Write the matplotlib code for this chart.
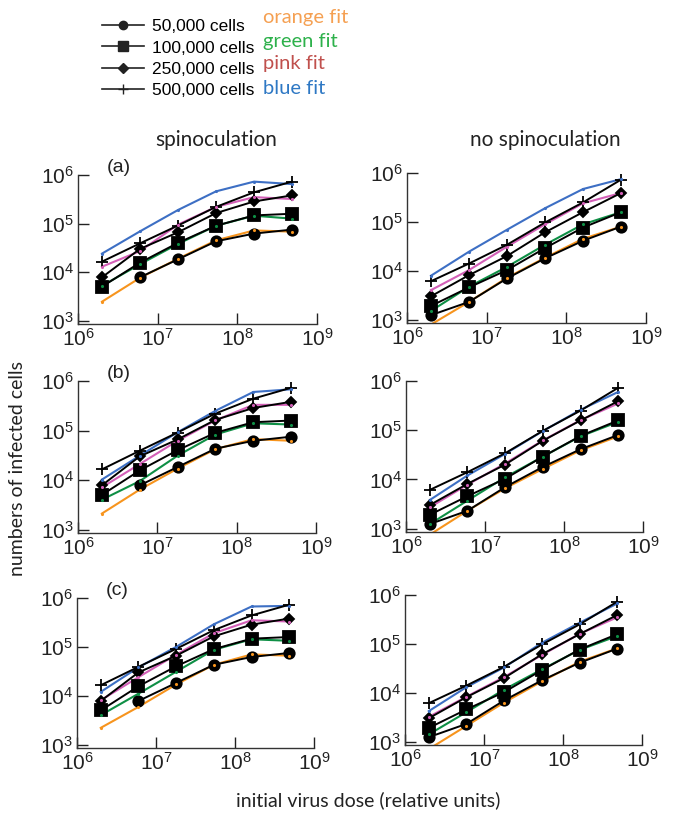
import matplotlib
matplotlib.use("Agg")
import matplotlib.pyplot as plt
import numpy as np
from matplotlib.lines import Line2D

plt.rcParams['font.family'] = ['Liberation Sans', 'DejaVu Sans']
plt.rcParams['mathtext.fontset'] = 'custom'
plt.rcParams['mathtext.rm'] = 'Liberation Sans'

# initial virus dose (relative units)
dose = [2e6, 6e6, 1.8e7, 5.4e7, 1.62e8, 4.86e8]

cell_labels = ['50,000 cells', '100,000 cells', '250,000 cells', '500,000 cells']
fit_labels = ['orange fit', 'green fit', 'pink fit', 'blue fit']

# measured data (same in every row)
spin_50k = [np.nan, 7.8e3, 1.83e4, 4.3e4, 6.2e4, 7.5e4]
spin_100k = [5.0e3, 1.56e4, 4.0e4, 9.0e4, 1.47e5, 1.59e5]
spin_250k = [7.8e3, 3.0e4, 6.6e4, 1.64e5, 2.85e5, 3.8e5]
spin_500k = [1.64e4, 3.9e4, 9.1e4, 2.2e5, 4.4e5, 7.3e5]

nospin_50k = [1.23e3, 2.3e3, 6.95e3, 1.79e4, 4.1e4, 8.0e4]
nospin_100k = [1.9e3, 4.55e3, 1.03e4, 2.9e4, 7.65e4, 1.58e5]
nospin_250k = [3.0e3, 8.1e3, 2.0e4, 6.1e4, 1.58e5, 3.9e5]
nospin_500k = [6.1e3, 1.4e4, 3.4e4, 9.7e4, 2.5e5, 7.3e5]

# fits, row (a)
a_spin_orange = [2.45e3, 7.6e3, 1.88e4, 4.5e4, 7.2e4, 6.8e4]
a_spin_green = [5.2e3, 1.45e4, 3.8e4, 9.0e4, 1.45e5, 1.26e5]
a_spin_pink = [1.29e4, 2.7e4, 9.5e4, 2.2e5, 3.5e5, 3.2e5]
a_spin_blue = [2.4e4, 6.9e4, 1.9e5, 4.6e5, 7.3e5, 6.5e5]
a_nospin_orange = [7.9e2, 2.3e3, 7.2e3, 1.84e4, 4.5e4, 8.0e4]
a_nospin_green = [1.5e3, 4.7e3, 1.2e4, 3.4e4, 8.9e4, 1.58e5]
a_nospin_pink = [4.0e3, 1.03e4, 3.1e4, 8.9e4, 2.4e5, 3.9e5]
a_nospin_blue = [7.9e3, 2.45e4, 6.9e4, 1.9e5, 4.7e5, 7.5e5]

# fits, row (b)
b_spin_orange = [2.1e3, 6.4e3, 1.7e4, 4.2e4, 6.7e4, 6.2e4]
b_spin_green = [4.0e3, 9.5e3, 3.1e4, 8.3e4, 1.4e5, 1.32e5]
b_spin_pink = [7.1e3, 2.1e4, 6.2e4, 1.6e5, 3.3e5, 3.3e5]
b_spin_blue = [1.02e4, 3.1e4, 9.2e4, 2.5e5, 6.0e5, 6.8e5]
b_nospin_orange = [7.5e2, 2.3e3, 6.6e3, 1.63e4, 3.9e4, 7.5e4]
b_nospin_green = [1.23e3, 3.7e3, 1.1e4, 2.9e4, 7.5e4, 1.48e5]
b_nospin_pink = [2.7e3, 7.8e3, 2.1e4, 6.2e4, 1.6e5, 3.5e5]
b_nospin_blue = [3.8e3, 1.2e4, 3.3e4, 9.6e4, 2.6e5, 6.0e5]

# fits, row (c)
c_spin_orange = [2.2e3, 5.9e3, 1.7e4, 4.3e4, 7.0e4, 6.6e4]
c_spin_green = [4.0e3, 1.1e4, 3.1e4, 8.7e4, 1.43e5, 1.33e5]
c_spin_pink = [8.1e3, 2.4e4, 6.9e4, 1.9e5, 3.5e5, 3.3e5]
c_spin_blue = [1.2e4, 3.8e4, 1.0e5, 2.9e5, 6.7e5, 6.9e5]
c_nospin_orange = [7.0e2, 2.1e3, 6.3e3, 1.7e4, 4.3e4, 8.1e4]
c_nospin_green = [1.4e3, 4.0e3, 1.16e4, 3.0e4, 7.5e4, 1.45e5]
c_nospin_pink = [3.2e3, 8.3e3, 2.1e4, 5.9e4, 1.6e5, 3.5e5]
c_nospin_blue = [4.2e3, 1.3e4, 3.3e4, 1.05e5, 2.7e5, 6.7e5]

spin_data = [spin_50k, spin_100k, spin_250k, spin_500k]
nospin_data = [nospin_50k, nospin_100k, nospin_250k, nospin_500k]
fits = {
    ('a', 0): [a_spin_orange, a_spin_green, a_spin_pink, a_spin_blue],
    ('a', 1): [a_nospin_orange, a_nospin_green, a_nospin_pink, a_nospin_blue],
    ('b', 0): [b_spin_orange, b_spin_green, b_spin_pink, b_spin_blue],
    ('b', 1): [b_nospin_orange, b_nospin_green, b_nospin_pink, b_nospin_blue],
    ('c', 0): [c_spin_orange, c_spin_green, c_spin_pink, c_spin_blue],
    ('c', 1): [c_nospin_orange, c_nospin_green, c_nospin_pink, c_nospin_blue],
}

markers = ['o', 's', 'D', '+']
msizes = [7.5, 8, 5.5, 8.5]
fit_colors = ['#F7941D', '#0E8F45', '#D35FB7', '#3D6FC4']
text_colors = ['#F5A052', '#2DB14B', '#C0504D', '#2E78C4']

W, H = 674, 813
fig = plt.figure(figsize=(W / 100, H / 100), dpi=100)


def px_axes(left, top, right, bottom):
    return fig.add_axes([left / W, 1 - bottom / H, (right - left) / W, (bottom - top) / H])


boxes = [
    [(78, 175, 317, 324), (407, 173, 646, 323)],
    [(78, 381, 316, 533), (406, 381, 643, 532)],
    [(77, 598, 314, 748), (405, 595, 642, 745)],
]

for r, row in enumerate(['a', 'b', 'c']):
    for c in range(2):
        ax = px_axes(*boxes[r][c])
        data = spin_data if c == 0 else nospin_data
        for k in range(4):
            ax.plot(dose, fits[(row, c)][k], color=fit_colors[k], lw=1.5, zorder=2)
            ax.plot(dose, data[k], color='black', lw=1.4, marker=markers[k],
                    ms=msizes[k], mew=1.3, zorder=3)
            ax.plot(dose, fits[(row, c)][k], ls='none', marker='.', ms=2.5,
                    color=fit_colors[k], zorder=4)
        ax.set_xscale('log')
        ax.set_yscale('log')
        ax.set_xlim(1e6, 1e9)
        ax.set_ylim(8.5e2, 1e6)
        ax.set_xticks([1e6, 1e7, 1e8, 1e9])
        ax.set_yticks([1e3, 1e4, 1e5, 1e6])
        ax.minorticks_off()
        ax.spines['top'].set_visible(False)
        ax.spines['right'].set_visible(False)
        for s in ['left', 'bottom']:
            ax.spines[s].set_linewidth(1.0)
            ax.spines[s].set_color('#333333')
        ax.tick_params(direction='in', length=8, width=1.0, labelsize=15,
                       colors='#222222', pad=3)
        if c == 0:
            ax.text(0.17, 1.05, '(' + row + ')', transform=ax.transAxes,
                    fontsize=14, ha='center', va='center', color='#222222')

# column titles
fig.text(216 / W, 1 - 140 / H, 'spinoculation', fontsize=15, family=['Lato', 'DejaVu Sans'],
         ha='center', va='center', color='#222222')
fig.text(545 / W, 1 - 140 / H, 'no spinoculation', fontsize=15, family=['Lato', 'DejaVu Sans'],
         ha='center', va='center', color='#222222')

fig.text(18 / W, 1 - 468 / H, 'numbers of infected cells', fontsize=14,
         family=['Lato', 'DejaVu Sans'], rotation=90, ha='center', va='center',
         color='#222222')
fig.text(368 / W, 1 - 800 / H, 'initial virus dose (relative units)', fontsize=14,
         family=['Lato', 'DejaVu Sans'], ha='center', va='center', color='#222222')

# legend
handles = [Line2D([], [], color='#222222', lw=1.2, marker=markers[k],
                  ms=[6, 7, 5, 7][k], mew=1.0) for k in range(4)]
fig.legend(handles, cell_labels, loc='upper left', bbox_to_anchor=(90 / W, 1 - 7 / H),
           frameon=False, fontsize=12.5, handlelength=2.4, handletextpad=0.45,
           labelspacing=0.35, borderpad=0.2)
for k, y in enumerate([18, 41, 64, 88]):
    fig.text(263 / W, 1 - y / H, fit_labels[k], fontsize=14.5,
             family=['Lato', 'DejaVu Sans'], color=text_colors[k], ha='left', va='center')

fig.savefig('out.png', dpi=100)
